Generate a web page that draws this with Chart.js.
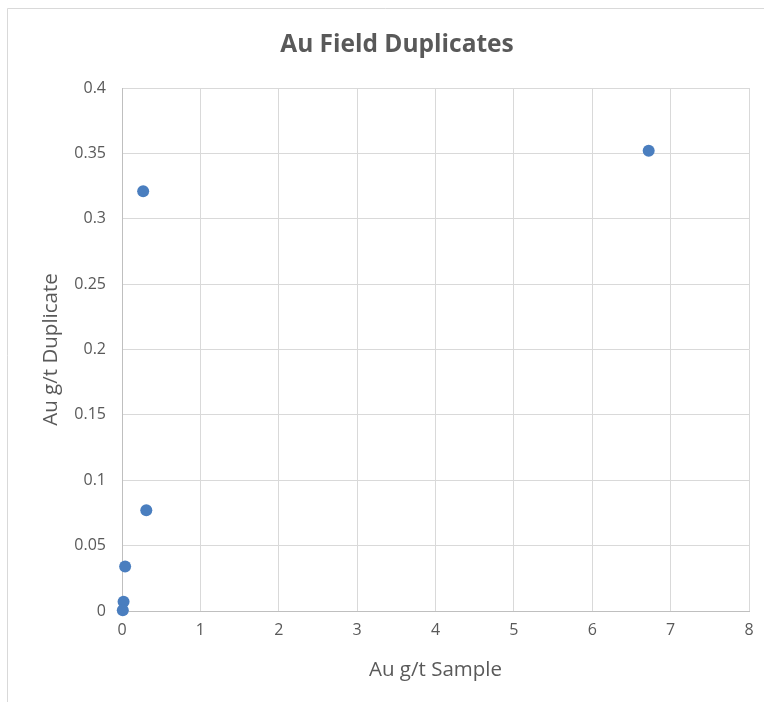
<!DOCTYPE html>
<html>
<head>
<meta charset="utf-8">
<script src="https://cdn.jsdelivr.net/npm/chart.js@4.4.0/dist/chart.umd.min.js"></script>
<style>
  html, body { margin: 0; padding: 0; background: #ffffff; }
  #wrap { position: relative; width: 764px; height: 702px; }
</style>
</head>
<body>
<div id="wrap"><canvas id="scatterChart" width="764" height="702"></canvas></div>
<script>
// Data
let sampleAu = [0.27, 6.72, 0.31, 0.04, 0.02, 0.01];
let duplicateAu = [0.321, 0.352, 0.077, 0.034, 0.007, 0.0005];
let xTicks = [0, 1, 2, 3, 4, 5, 6, 7, 8];
let yTicks = [0, 0.05, 0.1, 0.15, 0.2, 0.25, 0.3, 0.35, 0.4];
let chartTitle = 'Au Field Duplicates';

let points = sampleAu.map((x, i) => ({ x: x, y: duplicateAu[i] }));

let textGray = '#595959';
let fontFamily = '"Open Sans", Lato, sans-serif';

// Light frame round the chart and the title, which sits a bit right of centre
// because the original chart frame runs past the right edge of the picture
let framePlugin = {
    id: 'frame',
    beforeDraw(chart) {
        let ctx = chart.ctx;
        ctx.save();
        ctx.fillStyle = '#ffffff';
        ctx.fillRect(0, 0, chart.width, chart.height);
        ctx.strokeStyle = '#d9d9d9';
        ctx.lineWidth = 1;
        ctx.beginPath();
        ctx.moveTo(7.5, chart.height);
        ctx.lineTo(7.5, 8.5);
        ctx.lineTo(chart.width, 8.5);
        ctx.stroke();
        ctx.restore();
    },
    afterDraw(chart) {
        let ctx = chart.ctx;
        ctx.save();
        ctx.fillStyle = textGray;
        ctx.font = 'bold 24.5px ' + fontFamily;
        ctx.textAlign = 'center';
        ctx.textBaseline = 'middle';
        ctx.fillText(chartTitle, 397, 45);
        ctx.restore();
    }
};

let scatterCtx = document.getElementById('scatterChart').getContext('2d');
let scatterChart = new Chart(scatterCtx, {
    type: 'scatter',
    data: {
        datasets: [{
            label: chartTitle,
            data: points,
            backgroundColor: '#4a7ebf',
            borderColor: '#4a7ebf',
            pointRadius: 6,
            pointBorderWidth: 0,
            clip: false
        }]
    },
    options: {
        responsive: false,
        animation: false,
        layout: {
            padding: { left: 0, right: 15, top: 88, bottom: 0 }
        },
        plugins: {
            legend: { display: false },
            tooltip: { enabled: false },
            title: { display: false }
        },
        scales: {
            x: {
                type: 'linear',
                min: 0,
                max: 8,
                afterBuildTicks(scale) {
                    scale.ticks = xTicks.map(v => ({ value: v }));
                },
                afterFit(scale) {
                    scale.height = 91;
                },
                ticks: {
                    color: textGray,
                    font: { family: fontFamily, size: 16 },
                    padding: 10
                },
                grid: { color: '#d9d9d9', drawTicks: false },
                border: { color: '#bfbfbf' },
                title: {
                    display: true,
                    text: 'Au g/t Sample',
                    color: textGray,
                    font: { family: fontFamily, size: 20.5 },
                    padding: { top: 0, bottom: 20 }
                }
            },
            y: {
                type: 'linear',
                min: 0,
                max: 0.4,
                afterBuildTicks(scale) {
                    scale.ticks = yTicks.map(v => ({ value: v }));
                },
                afterFit(scale) {
                    scale.width = 122;
                },
                ticks: {
                    color: textGray,
                    font: { family: fontFamily, size: 16 },
                    padding: 16,
                    callback: v => String(Number(v.toFixed(2)))
                },
                grid: { color: '#d9d9d9', drawTicks: false },
                border: { color: '#bfbfbf' },
                title: {
                    display: true,
                    text: 'Au g/t Duplicate',
                    color: textGray,
                    font: { family: fontFamily, size: 20.5 },
                    padding: { top: 39, bottom: 0 }
                }
            }
        }
    },
    plugins: [framePlugin]
});
</script>
</body>
</html>
